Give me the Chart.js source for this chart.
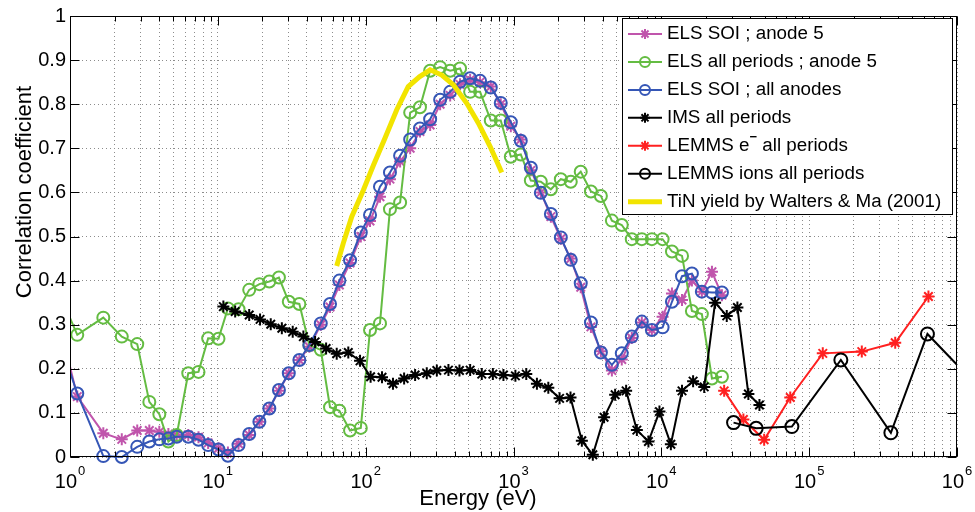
<!DOCTYPE html>
<html>
<head>
<meta charset="utf-8">
<script src="https://cdn.jsdelivr.net/npm/chart.js@4.4.1/dist/chart.umd.min.js"></script>
<style>
  html, body { margin: 0; padding: 0; background: #fff; }
  #wrap { width: 975px; height: 512px; }
</style>
</head>
<body>
<div id="wrap"><canvas id="corrChart" width="975" height="512"></canvas></div>
<script>
// energies (eV) and correlation coefficients

// ELS energy bins (first one sits just below 1 eV, clipped by the axes)
const elsEnergy = [0.9, 1.12, 1.68, 2.24, 2.85, 3.44, 4.02, 4.63, 5.27, 6.31, 7.4, 8.6, 10.1,
  11.7, 13.8, 16.3, 19.1, 22.3, 25.9, 30.2, 35.6, 41.6, 49.7, 57.4, 66.4, 78.4, 92.7,
  107, 125, 146, 171, 200, 233, 273, 319, 373, 435, 509, 594, 702, 820, 959,
  1120, 1310, 1530, 1790, 2090, 2440, 2850, 3340, 3900, 4630, 5400, 6310, 7380, 8630,
  10200, 11800, 13800, 16100, 18800, 22000, 25700];

const elsSoiAnode5 = [0.268, 0.137, 0.054, 0.040, 0.060, 0.060, 0.057, 0.052, 0.050, 0.050, 0.045, 0.032, 0.020,
  0.010, 0.030, 0.050, 0.080, 0.110, 0.150, 0.190, 0.220, 0.250, 0.300, 0.340, 0.390, 0.440, 0.500,
  0.535, 0.590, 0.630, 0.670, 0.700, 0.738, 0.753, 0.800, 0.820, 0.845, 0.855, 0.850, 0.840, 0.800, 0.750,
  0.720, 0.650, 0.600, 0.545, 0.495, 0.450, 0.385, 0.295, 0.240, 0.196, 0.221, 0.270, 0.305, 0.288,
  0.318, 0.371, 0.356, 0.400, 0.375, 0.420, 0.367];

const elsAllPeriodsAnode5 = [0.351, 0.277, 0.316, 0.273, 0.256, 0.125, 0.097, 0.035, 0.050, 0.190, 0.193, 0.269, 0.268,
  0.337, 0.335, 0.379, 0.392, 0.398, 0.407, 0.352, 0.347, 0.254, 0.243, 0.113, 0.105, 0.060, 0.066,
  0.288, 0.303, 0.562, 0.577, 0.781, 0.793, 0.876, 0.884, 0.876, 0.881, 0.828, 0.828, 0.763, 0.763, 0.681,
  0.686, 0.627, 0.624, 0.607, 0.630, 0.624, 0.647, 0.602, 0.592, 0.536, 0.526, 0.494, 0.494, 0.494,
  0.494, 0.466, 0.456, 0.331, 0.324, 0.178, 0.182];

const elsSoiAllAnodes = [0.239, 0.144, 0.002, 0.000, 0.023, 0.035, 0.040, 0.042, 0.046, 0.046, 0.039, 0.027, 0.017,
  0.003, 0.027, 0.052, 0.080, 0.110, 0.152, 0.190, 0.220, 0.254, 0.303, 0.347, 0.400, 0.446, 0.509,
  0.549, 0.613, 0.645, 0.683, 0.720, 0.745, 0.766, 0.810, 0.828, 0.851, 0.859, 0.853, 0.838, 0.803, 0.759,
  0.717, 0.656, 0.599, 0.551, 0.498, 0.447, 0.394, 0.305, 0.237, 0.209, 0.235, 0.273, 0.307, 0.288,
  0.294, 0.352, 0.410, 0.416, 0.375, 0.373, 0.373];

const imsEnergy = [10.9, 13.1, 16.3, 19.3, 22.8, 27.1, 32.1, 37.9, 45.5, 54.0, 63.7, 76.3, 91.6,
  108, 129, 153, 182, 216, 259, 303, 363, 431, 509, 610, 725, 855,
  1030, 1220, 1440, 1720, 2050, 2430, 2900, 3440, 4100, 4870, 5780, 6830, 8180, 9710,
  11600, 13800, 16400, 19500, 23100, 27700, 32700, 38800, 46100];
const imsAllPeriods = [0.341, 0.330, 0.322, 0.312, 0.301, 0.292, 0.284, 0.273, 0.261, 0.246, 0.234, 0.237, 0.218,
  0.182, 0.181, 0.166, 0.178, 0.186, 0.190, 0.196, 0.197, 0.196, 0.197, 0.188, 0.188, 0.186,
  0.184, 0.188, 0.166, 0.157, 0.133, 0.135, 0.037, 0.005, 0.090, 0.141, 0.150, 0.061, 0.035, 0.103,
  0.029, 0.150, 0.172, 0.159, 0.350, 0.320, 0.339, 0.143, 0.118];

const lemmsEEnergy = [26600, 35900, 49600, 74500, 123600, 227000, 382000, 641000];
const lemmsEAllPeriods = [0.150, 0.085, 0.039, 0.135, 0.235, 0.239, 0.259, 0.364];

const lemmsIonEnergy = [30800, 43800, 76400, 163800, 357000, 631000, 1440000];
const lemmsIonsAllPeriods = [0.078, 0.065, 0.069, 0.220, 0.055, 0.279, 0.154];

const tinEnergy = [63.7, 70.6, 80.5, 96.4, 113, 135, 162, 194, 231, 273, 327, 392, 483, 579, 695, 833];
const tinYield = [0.433, 0.485, 0.545, 0.605, 0.662, 0.723, 0.787, 0.840, 0.862, 0.878, 0.866, 0.844, 0.802, 0.757, 0.704, 0.645];

// axis ticks
const xDecades = [0, 1, 2, 3, 4, 5, 6];
const xMinorSteps = [1, 2, 3, 4, 5, 6, 7, 8, 9];
const yTicks = [0, 0.1, 0.2, 0.3, 0.4, 0.5, 0.6, 0.7, 0.8, 0.9, 1];

const FONT = '"Liberation Sans", Arial, Helvetica, sans-serif';
Chart.defaults.font.family = FONT;
const gridColor = "#8c8c8c";

function pts(xs, ys) {
  return xs.map((x, i) => ({ x: x, y: ys[i] }));
}

// every 1..9 x 10^n, plus the last decade
const xGridValues = [];
xDecades.forEach((d) => {
  xMinorSteps.forEach((m) => {
    const v = m * Math.pow(10, d);
    if (v <= 1e6) xGridValues.push(v);
  });
});

const noFill = "rgba(0,0,0,0)";
const clipBox = { left: 0, right: 0, top: 8, bottom: 8 };

function series(label, xs, ys, color, style, extra) {
  return Object.assign({
    label: label,
    data: pts(xs, ys),
    borderColor: color,
    backgroundColor: color,
    borderWidth: 2,
    pointStyle: style,
    pointRadius: 6,
    pointBorderWidth: 2,
    pointBorderColor: color,
    pointBackgroundColor: noFill,
    fill: false,
    tension: 0,
    clip: clipBox,
  }, extra || {});
}

// first dataset is drawn on top
const datasets = [
  series("TiN yield by Walters & Ma (2001)", tinEnergy, tinYield, "#F2E400", false, { borderWidth: 5, pointRadius: 0 }),
  series("LEMMS ions all periods", lemmsIonEnergy, lemmsIonsAllPeriods, "#000000", "circle", { pointRadius: 6.5 }),
  series("LEMMS e- all periods", lemmsEEnergy, lemmsEAllPeriods, "#FF2020", "star"),
  series("IMS all periods", imsEnergy, imsAllPeriods, "#000000", "star"),
  series("ELS SOI ; all anodes", elsEnergy, elsSoiAllAnodes, "#3556B6", "circle"),
  series("ELS all periods ; anode 5", elsEnergy, elsAllPeriodsAnode5, "#64BC42", "circle"),
  series("ELS SOI ; anode 5", elsEnergy, elsSoiAnode5, "#C055AC", "star"),
];

const legendOrder = [6, 5, 4, 3, 2, 1, 0];

function drawMarker(ctx, style, x, y, r, color) {
  ctx.save();
  ctx.strokeStyle = color;
  ctx.lineWidth = 2;
  ctx.beginPath();
  if (style === "circle") {
    ctx.arc(x, y, r, 0, Math.PI * 2);
  } else if (style === "star") {
    for (let k = 0; k < 4; k++) {
      const a = (k * Math.PI) / 4;
      ctx.moveTo(x - r * Math.cos(a), y - r * Math.sin(a));
      ctx.lineTo(x + r * Math.cos(a), y + r * Math.sin(a));
    }
  }
  ctx.stroke();
  ctx.restore();
}

const frame = {
  id: "frame",
  afterDraw(chart) {
    const ctx = chart.ctx;
    const a = chart.chartArea;
    const xs = chart.scales.x;
    const ys = chart.scales.y;
    const L = Math.round(a.left) + 0.5, R = Math.round(a.right) - 0.5;
    const T = Math.round(a.top) + 0.5, B = Math.round(a.bottom) - 0.5;

    ctx.save();
    ctx.strokeStyle = "#000";
    ctx.lineWidth = 1;
    ctx.strokeRect(L, T, R - L, B - T);

    // inward tick marks on all four sides
    ctx.beginPath();
    xGridValues.forEach((v) => {
      const px = Math.round(xs.getPixelForValue(v)) + 0.5;
      const len = Math.log10(v) % 1 === 0 ? 9 : 5;
      ctx.moveTo(px, B); ctx.lineTo(px, B - len);
      ctx.moveTo(px, T); ctx.lineTo(px, T + len);
    });
    yTicks.forEach((v) => {
      const py = Math.round(ys.getPixelForValue(v)) + 0.5;
      ctx.moveTo(L, py); ctx.lineTo(L + 9, py);
      ctx.moveTo(R, py); ctx.lineTo(R - 9, py);
    });
    ctx.stroke();

    // x tick labels 10^n
    ctx.fillStyle = "#000";
    ctx.textBaseline = "alphabetic";
    ctx.textAlign = "left";
    xDecades.forEach((d) => {
      const px = xs.getPixelForValue(Math.pow(10, d));
      ctx.font = "20px " + FONT;
      const wBase = ctx.measureText("10").width;
      ctx.font = "13px " + FONT;
      const wExp = ctx.measureText(String(d)).width;
      const x0 = px - (wBase + 1 + wExp) / 2;
      ctx.font = "20px " + FONT;
      ctx.fillText("10", x0, 488);
      ctx.font = "13px " + FONT;
      ctx.fillText(String(d), x0 + wBase + 1, 475);
    });

    // axis titles
    ctx.font = "22px " + FONT;
    ctx.textAlign = "center";
    ctx.fillText("Energy (eV)", 478, 505);
    ctx.save();
    ctx.translate(25, 192);
    ctx.rotate(-Math.PI / 2);
    ctx.textBaseline = "middle";
    ctx.fillText("Correlation coefficient", 0, 0);
    ctx.restore();

    // legend
    const bx = 622.5, by = 18.5, bw = 330, bh = 196;
    ctx.fillStyle = "#fff";
    ctx.fillRect(bx, by, bw, bh);
    ctx.strokeStyle = "#000";
    ctx.lineWidth = 1;
    ctx.strokeRect(bx, by, bw, bh);
    const legendFont = "18.8px " + FONT;
    legendOrder.forEach((idx, i) => {
      const ds = chart.data.datasets[idx];
      const y = 34 + i * 27.95;
      ctx.save();
      ctx.strokeStyle = ds.borderColor;
      ctx.lineWidth = ds.borderWidth;
      ctx.beginPath();
      ctx.moveTo(628, y);
      ctx.lineTo(662, y);
      ctx.stroke();
      ctx.restore();
      if (ds.pointStyle) drawMarker(ctx, ds.pointStyle, 645, y, 5, ds.borderColor);
      ctx.fillStyle = "#000";
      ctx.textAlign = "left";
      ctx.textBaseline = "middle";
      ctx.font = legendFont;
      if (ds.label.indexOf("e-") >= 0) {
        let tx = 667;
        ctx.fillText("LEMMS e", tx, y);
        tx += ctx.measureText("LEMMS e").width;
        ctx.font = "bold 13px " + FONT;
        ctx.fillText("\u2212", tx, y - 8);
        tx += ctx.measureText("\u2212").width;
        ctx.font = legendFont;
        ctx.fillText(" all periods", tx, y);
      } else {
        ctx.fillText(ds.label, 667, y);
      }
    });
    ctx.restore();
  },
};

const corrChart = new Chart(document.getElementById("corrChart"), {
  type: "line",
  data: { datasets: datasets },
  options: {
    responsive: false,
    animation: false,
    devicePixelRatio: 1,
    layout: { padding: { top: 16, right: 18, left: 0, bottom: 0 } },
    plugins: { legend: { display: false }, tooltip: { enabled: false } },
    scales: {
      x: {
        type: "logarithmic",
        min: 1,
        max: 1e6,
        afterBuildTicks: (scale) => {
          scale.ticks = xGridValues.map((v) => ({ value: v, major: Math.log10(v) % 1 === 0 }));
        },
        afterFit: (scale) => { scale.height = 55; },
        ticks: { display: false },
        grid: { color: gridColor, lineWidth: 1, drawTicks: false },
        border: { display: false, dash: [1, 3] },
      },
      y: {
        min: 0,
        max: 1,
        afterBuildTicks: (scale) => {
          scale.ticks = yTicks.map((v) => ({ value: v }));
        },
        afterFit: (scale) => { scale.width = 70; },
        ticks: {
          color: "#000",
          font: { size: 20 },
          padding: 4,
          callback: (v) => (v === 0 ? "0" : v === 1 ? "1" : Number(v).toFixed(1)),
        },
        grid: { color: gridColor, lineWidth: 1, drawTicks: false },
        border: { display: false, dash: [1, 3] },
      },
    },
  },
  plugins: [frame],
});
</script>
</body>
</html>
